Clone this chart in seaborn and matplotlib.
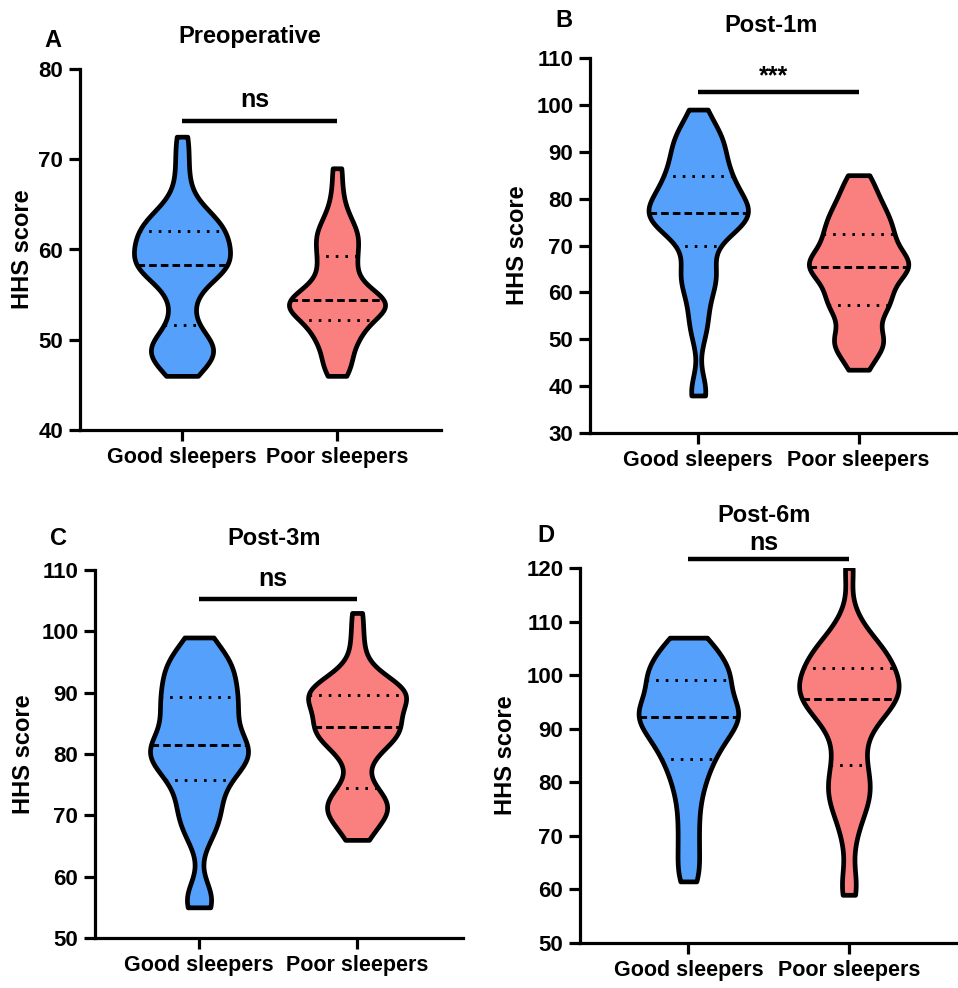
import numpy as np
import pandas as pd
import matplotlib
matplotlib.use("Agg")
import matplotlib.pyplot as plt
import seaborn as sns

# ---------------- data ----------------
groups = ["Good sleepers", "Poor sleepers"]
colors = ["#54A0FB", "#FA8080"]
titles = ["Preoperative", "Post-1m", "Post-3m", "Post-6m"]
letters = ["A", "B", "C", "D"]
sig_labels = ["ns", "***", "ns", "ns"]
sig_bar_y = [74.2, 102.75, 105.3, 121.7]
sig_text_y = [75.8, 104.6, 107.4, 123.4]
y_limits = [(40, 80), (30, 110), (50, 110), (50, 120)]
y_ticks = [[40, 50, 60, 70, 80],
           [30, 40, 50, 60, 70, 80, 90, 100, 110],
           [50, 60, 70, 80, 90, 100, 110],
           [50, 60, 70, 80, 90, 100, 110, 120]]

pre_good = [46, 47, 47.5, 48, 48.5, 49, 49, 49.5, 50, 50.5,
            52, 53.5, 55, 56, 57, 57.5, 58, 58, 58, 58,
            58.5, 59, 59.5, 60, 60, 60.5, 61, 61, 61.5, 62,
            62.3, 62.6, 63, 63.4, 63.8, 64.3, 65.5, 67.5, 70, 72.5]
pre_poor = [46, 47, 47.5, 48.5, 49.5, 50, 50.5, 51, 51.5, 52,
            52.3, 52.8, 53, 53.3, 53.5, 53.8, 54, 54, 54.2, 54.3,
            54.4, 54.6, 55, 55.5, 56, 56.5, 57, 58, 58.5, 59.2,
            59.6, 60.5, 61, 61.5, 62, 62.5, 63.5, 64.5, 66.5, 69]
m1_good = [38, 39.5, 51, 54, 57.5, 61, 62.5, 63.5, 65, 67,
           71, 72.5, 73.5, 74.5, 75, 75.5, 76, 76.5, 76.5, 77,
           77, 78, 79, 79.5, 80.5, 81.5, 82, 83, 84, 84.5,
           86, 87, 88, 89.5, 91, 92, 93, 94, 95.5, 99]
m1_poor = [43.5, 46, 48, 49, 49.5, 50.5, 52, 54.5, 56, 56.8,
           57.6, 58.5, 59.5, 60.5, 61.5, 62.5, 63.5, 64.5, 65, 65.3,
           65.7, 66, 66.5, 67, 68, 68.5, 69.5, 70.5, 71.5, 72.3,
           73, 74, 75, 76, 77, 78, 79.5, 81, 83, 85]
m3_good = [55, 56, 57.5, 66, 68, 69.5, 70.5, 72, 73.5, 75,
           76, 77, 78, 78.5, 79, 79.5, 80, 80.5, 81, 81.5,
           81.5, 82.5, 83.5, 84.5, 85.5, 86.5, 87, 88, 88.5, 89,
           90, 91, 92, 92.5, 93.5, 94.5, 95, 96, 97, 99]
m3_poor = [66, 67.5, 69, 70, 70.5, 71, 71.5, 72, 73, 74,
           74.7, 78, 80, 81, 82, 82.5, 83, 83.5, 84, 84.3,
           84.5, 85, 86, 86.5, 87.5, 88, 88.5, 89, 89.3, 89.6,
           90, 90.3, 90.6, 91, 91.5, 92, 93, 95.5, 99, 103]
m6_good = [61.5, 64, 67, 70, 73, 76, 78.5, 80.5, 82, 84,
           84.4, 86, 87, 88, 88.5, 89.5, 90, 91, 91.5, 92,
           92.4, 93, 93.5, 94, 94.5, 95, 96, 97, 98, 99,
           99.5, 100, 100.5, 101, 102, 103, 104, 105, 106, 107]
m6_poor = [59, 62, 69, 73, 75, 76.5, 78, 79, 80.5, 82,
           83.6, 86, 88, 90, 91.5, 92.5, 93.5, 94, 94.5, 95.2,
           95.8, 96.5, 97, 97.5, 98, 98.5, 99, 99.5, 100.5, 101,
           102.2, 102.8, 103.5, 104, 104.5, 105.5, 106.5, 108, 111, 120]

panels = [(pre_good, pre_poor), (m1_good, m1_poor),
          (m3_good, m3_poor), (m6_good, m6_poor)]

# ---------------- layout (pixels) ----------------
W, H = 958, 988
axes_px = [(80, 69, 441, 430), (590, 58, 958, 433),
           (95, 570, 463, 938), (580, 568, 958, 943)]
x_limits = [(-0.658, 1.671), (-0.675, 1.62), (-0.658, 1.67), (-0.675, 1.68)]
title_px = [(250, 43), (771, 32), (274, 545), (764, 522)]
letter_px = [(44, 47), (555, 27), (50, 545), (537, 542)]
ylabel_px = [34, 529, 35, 517]

sns.set_style("ticks")
plt.rcParams['font.family'] = ['Liberation Sans', 'DejaVu Sans']
plt.rcParams['font.weight'] = 'bold'
for key in ["text.color", "axes.labelcolor", "xtick.color", "ytick.color",
            "axes.edgecolor"]:
    plt.rcParams[key] = "black"

fig = plt.figure(figsize=(W / 100, H / 100), dpi=100)

for i, (good, poor) in enumerate(panels):
    l, t, r, b = axes_px[i]
    ax = fig.add_axes([l / W, 1 - b / H, (r - l) / W, (b - t) / H])
    df = pd.DataFrame({
        "group": [groups[0]] * len(good) + [groups[1]] * len(poor),
        "score": list(good) + list(poor),
    })
    sns.violinplot(data=df, x="group", y="score", hue="group",
                   order=groups, hue_order=groups, palette=colors,
                   saturation=1, cut=0, inner="quart", density_norm="width",
                   bw_adjust=0.55, gridsize=300, width=0.62, linewidth=3.4,
                   linecolor="black", legend=False, ax=ax)
    for coll in ax.collections:
        coll.set_joinstyle("round")
    for k, ln in enumerate(ax.lines):
        ln.set_color("black")
        ln.set_linewidth(2.1)
        if k % 3 == 1:
            ln.set_dashes([2.6, 1.4])
        else:
            ln.set_dashes([0.9, 2.4])

    ax.set_xlim(*x_limits[i])
    ax.set_ylim(*y_limits[i])
    ax.set_yticks(y_ticks[i])
    ax.set_xlabel("")
    ax.set_ylabel("HHS score", fontsize=17, fontweight="bold", color="black")
    ax.yaxis.set_label_coords((ylabel_px[i] - l) / (r - l), 0.5)
    for s in ["top", "right"]:
        ax.spines[s].set_visible(False)
    for s in ["left", "bottom"]:
        ax.spines[s].set_linewidth(2.3)
        ax.spines[s].set_color("black")
    ax.tick_params(axis="both", width=2.3, length=8, pad=4,
                   color="black", labelcolor="black")
    ax.tick_params(axis="y", labelsize=16)
    ax.tick_params(axis="x", labelsize=15.5)
    for lab in ax.get_xticklabels() + ax.get_yticklabels():
        lab.set_fontweight("bold")

    # significance bar
    ax.plot([0, 1], [sig_bar_y[i], sig_bar_y[i]], color="black", lw=3.2,
            solid_capstyle="butt", clip_on=False)
    ax.text(0.47, sig_text_y[i], sig_labels[i], ha="center", va="baseline",
            fontsize=18, fontweight="bold", color="black", clip_on=False)

    tx, ty = title_px[i]
    fig.text(tx / W, 1 - ty / H, titles[i], ha="center", va="baseline",
             fontsize=17, fontweight="bold", color="black")
    lx, ly = letter_px[i]
    fig.text(lx / W, 1 - ly / H, letters[i], ha="left", va="baseline",
             fontsize=17, fontweight="bold", color="black")

fig.savefig("out.png", dpi=100, facecolor="white")
